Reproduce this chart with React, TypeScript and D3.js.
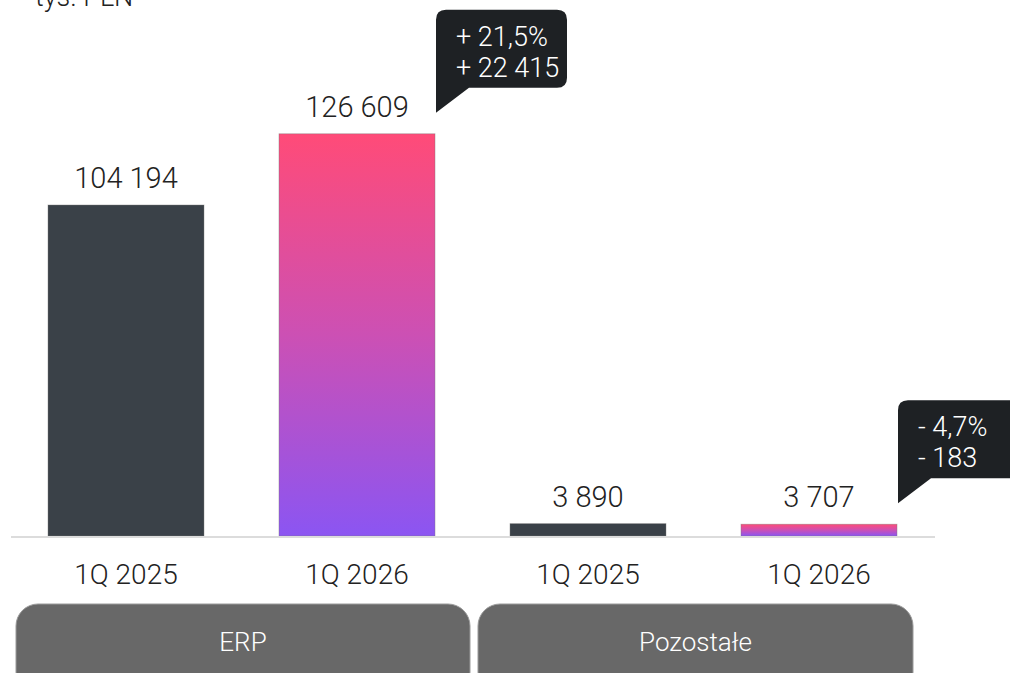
import React from "react";
import * as d3 from "d3";

const categories = ["1Q 2025", "1Q 2026", "1Q 2025", "1Q 2026"];
const values = [104194, 126609, 3890, 3707];
const valueLabels = ["104 194", "126 609", "3 890", "3 707"];
const groups = ["ERP", "Pozostałe"];
const changePct = ["+ 21,5%", "- 4,7%"];
const changeAbs = ["+ 22 415", "- 183"];
const calloutBars = [1, 3];
const unitLabel = "tys. PLN";

const W = 1010;
const H = 673;
const FONT = "Roboto, 'Liberation Sans', sans-serif";

export default function App() {
  const baseY = 536;
  const x = d3
    .scaleBand<number>()
    .domain(d3.range(values.length))
    .range([10.5, 934.5])
    .paddingInner(75 / 231)
    .paddingOuter(37.5 / 231);
  const y = d3.scaleLinear().domain([0, 104194]).range([baseY, 205]);
  const bw = x.bandwidth();

  const groupBoxes = [
    { x0: 16, x1: 470 },
    { x0: 478, x1: 913 },
  ];

  return (
    <svg
      width={W}
      height={H}
      style={{ position: "absolute", left: 0, top: 0, display: "block" }}
    >
      <defs>
        <linearGradient id="pinkPurple" x1="0" y1="0" x2="0" y2="1">
          <stop offset="0%" stopColor="#ff4b78" />
          <stop offset="50%" stopColor="#cc50b4" />
          <stop offset="100%" stopColor="#8b55f2" />
        </linearGradient>
      </defs>
      <rect x={0} y={0} width={W} height={H} fill="#ffffff" />
      <text
        x={35}
        y={6}
        fontFamily={FONT}
        fontWeight={300}
        fontSize={27}
        fill="#222"
      >
        {unitLabel}
      </text>

      {values.map((v, i) => {
        const bx = x(i)!;
        const top = y(v);
        const isNew = i % 2 === 1;
        return (
          <g key={i}>
            <rect
              x={bx}
              y={top}
              width={bw}
              height={baseY - top}
              fill={isNew ? "url(#pinkPurple)" : "#3a4148"}
              stroke="rgba(120,120,120,0.5)"
              strokeWidth={0.8}
            />
            <text
              x={bx + bw / 2}
              y={top - 17}
              textAnchor="middle"
              fontFamily={FONT}
              fontWeight={300}
              fontSize={29}
              fill="#222"
            >
              {valueLabels[i]}
            </text>
            <text
              x={bx + bw / 2}
              y={584}
              textAnchor="middle"
              fontFamily={FONT}
              fontWeight={300}
              fontSize={28}
              fill="#222"
            >
              {categories[i]}
            </text>
          </g>
        );
      })}

      <line
        x1={11}
        x2={935}
        y1={baseY + 1}
        y2={baseY + 1}
        stroke="#dcdcdc"
        strokeWidth={2}
      />

      {groups.map((g, gi) => {
        const b = groupBoxes[gi];
        return (
          <g key={g}>
            <rect
              x={b.x0}
              y={604}
              width={b.x1 - b.x0}
              height={90}
              rx={22}
              ry={22}
              fill="#686868"
              stroke="#9a9a9a"
              strokeWidth={1}
            />
            <text
              x={(b.x0 + b.x1) / 2}
              y={651}
              textAnchor="middle"
              fontFamily={FONT}
              fontWeight={300}
              fontSize={26}
              fill="#ffffff"
            >
              {g}
            </text>
          </g>
        );
      })}

      {calloutBars.map((bi, ci) => {
        const left = x(bi)! + bw + 1;
        const tipY = y(values[bi]) - 21;
        const bottom = tipY - 25;
        const top = bottom - 78;
        const width = ci === 0 ? 131 : 130;
        const r = 10;
        const right = left + width;
        const path = [
          `M${left},${tipY}`,
          `L${left},${top + r}`,
          `Q${left},${top} ${left + r},${top}`,
          `L${right - r},${top}`,
          `Q${right},${top} ${right},${top + r}`,
          `L${right},${bottom - r}`,
          `Q${right},${bottom} ${right - r},${bottom}`,
          `L${left + 33},${bottom}`,
          "Z",
        ].join(" ");
        return (
          <g key={ci}>
            <path d={path} fill="#1e2124" />
            <text
              x={left + 20}
              y={top + 36}
              fontFamily={FONT}
              fontWeight={300}
              fontSize={27}
              fill="#ffffff"
            >
              {changePct[ci]}
            </text>
            <text
              x={left + 20}
              y={top + 67}
              fontFamily={FONT}
              fontWeight={300}
              fontSize={27}
              fill="#ffffff"
            >
              {changeAbs[ci]}
            </text>
          </g>
        );
      })}
    </svg>
  );
}
